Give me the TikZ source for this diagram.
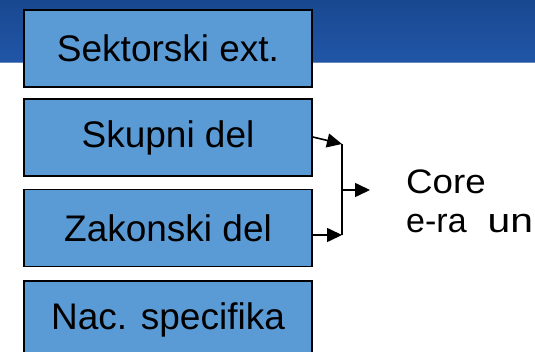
\documentclass[tikz,border=0pt]{standalone}
\usepackage{fontspec}
\setmainfont{Liberation Sans}
\usetikzlibrary{arrows.meta,calc}
\definecolor{bandtop}{HTML}{18488F}
\definecolor{bandbot}{HTML}{2156A8}
\definecolor{boxblue}{HTML}{5B9BD5}
\tikzset{
  partbox/.style={draw=black,line width=1.6pt,fill=boxblue,minimum width=288pt,minimum height=77pt,inner sep=0pt,
    font=\fontsize{37}{41}\selectfont},
  conn/.style={line width=1.6pt,-{Triangle[length=15pt,width=14pt]}},
  plain/.style={line width=1.6pt},
  side/.style={anchor=base west,inner sep=0pt,font=\fontsize{34}{38}\selectfont}
}
\begin{document}
\begin{tikzpicture}[x=1pt,y=-1pt]
\useasboundingbox (0,0) rectangle (535,352);
\clip (0,0) rectangle (535,352);
\shade[top color=bandtop,bottom color=bandbot] (0,0) rectangle (535,63);
\draw[draw=bandbot!70!white,line width=1pt] (0,62.5) -- (535,62.5);
\node[partbox] (b1) at (168,48.5) {Sektorski ext.};
\node[partbox] (b2) at (168,137.5) {Skupni del};
\node[partbox] (b3) at (168,228) {Zakonski del};
\node[partbox] (b4) at (168,319.5) {Nac. specifika};
\coordinate (jt) at (342,144);
\coordinate (jb) at (342,235);
\coordinate (jm) at (342,190);
\coordinate (out) at (370,190);
\draw[conn] ($(b2.east)+(0,-0.5)$) -- (jt);
\draw[conn] ($(b3.east)+(0,7)$) -- (jb);
\draw[plain] (jt) -- (jb);
\draw[conn] (jm) -- (out);
\node[side] (t1) at (406,194) {\scalebox{1.08}[1]{Core}};
\node[side] (t2) at (406,233) {e-ra\hspace{21pt}\scalebox{1.2}[1]{un}};
\end{tikzpicture}
\end{document}
